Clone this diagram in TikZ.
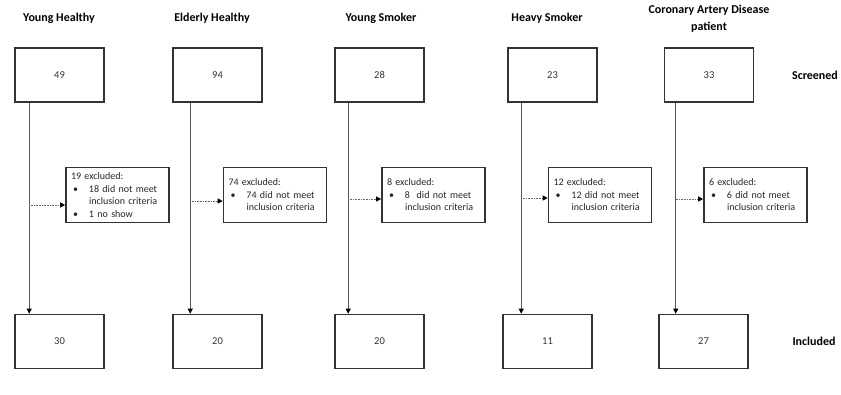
\documentclass[tikz,border=0pt]{standalone}
\usepackage{fontspec}
\setmainfont{Carlito}
\usetikzlibrary{arrows.meta,positioning,calc}

\newcommand{\exitem}{\hspace*{2pt}\makebox[16pt][l]{\textbullet}}
\newcommand{\exindent}{\hspace*{18pt}}

\begin{document}
\begin{tikzpicture}[
    x=1pt, y=-1pt,
    font=\fontsize{10.5}{12}\selectfont,
    field/.style={draw=black!80, line width=1.6pt, minimum width=89pt, minimum height=54pt, inner sep=0pt, text=black!80},
    excl/.style={draw=black!80, line width=1.6pt, minimum width=103pt, minimum height=55pt, text width=93pt, inner xsep=5pt, align=left, text=black!85, font=\fontsize{10}{12.5}\selectfont},
    group/.style={font=\bfseries\fontsize{12}{17}\selectfont, align=center},
    flow/.style={-{Triangle[length=5pt, width=5pt, color=black]}, draw=black!65, line width=0.8pt},
    skip/.style={-{Triangle[length=5pt, width=5pt, color=black]}, dash pattern=on 0.9pt off 0.7pt, draw=black!60, line width=0.9pt}
]
\useasboundingbox (0,0) rectangle (841,394);

% group titles
\node[group] (t1) at (59,18) {Young Healthy};
\node[group] (t2) at (212,18) {Elderly Healthy};
\node[group] (t3) at (381,18) {Young Smoker};
\node[group] (t4) at (547,18) {Heavy Smoker};
\node[group] (t5) at (709,19) {Coronary Artery Disease\\patient};

% screened
\node[field] (scr1) at (59.5,75) {49};
\node[field] (scr2) at (217.5,75) {94};
\node[field] (scr3) at (379.5,75) {28};
\node[field] (scr4) at (552.5,75) {23};
\node[field] (scr5) at (709,75) {33};
\node[group] (scr) at (815,75) {Screened};

% excluded
\node[excl] (ex1) at (117.5,195) {19 excluded:\\\exitem 18 did not meet\\\exindent inclusion criteria\\\exitem 1 no show};
\node[excl] (ex2) at (275,195) {74 excluded:\\\exitem 74 did not meet\\\exindent inclusion criteria};
\node[excl] (ex3) at (433.5,195) {8 excluded:\\\exitem 8~ did not meet\\\exindent inclusion criteria};
\node[excl] (ex4) at (600,195) {12 excluded:\\\exitem 12 did not meet\\\exindent inclusion criteria};
\node[excl] (ex5) at (755.5,195) {6 excluded:\\\exitem 6 did not meet\\\exindent inclusion criteria};

% included
\node[field] (inc1) at (59.5,341.5) {30};
\node[field] (inc2) at (217.5,341.5) {20};
\node[field] (inc3) at (379.5,341.5) {20};
\node[field] (inc4) at (547.5,341.5) {11};
\node[field] (inc5) at (703.5,341.5) {27};
\node[group] (inc) at (814,341.5) {Included};

% line starts and side arrow ends
\coordinate (top1) at ($(scr1.south west)+(15,0)$);
\coordinate (top2) at ($(scr2.south west)+(18,0)$);
\coordinate (top3) at ($(scr3.south west)+(14,0)$);
\coordinate (top4) at ($(scr4.south west)+(14,0)$);
\coordinate (top5) at ($(scr5.south west)+(12,0)$);
\coordinate (d1) at ($(ex1.west)+(0,10)$);
\coordinate (d2) at ($(ex2.west)+(0,6)$);
\coordinate (d3) at ($(ex3.west)+(0,4)$);
\coordinate (d4) at ($(ex4.west)+(0,3)$);
\coordinate (d5) at ($(ex5.west)+(0,4)$);

\draw[flow] (top1) -- (top1 |- inc1.north);
\draw[flow] (top2) -- (top2 |- inc2.north);
\draw[flow] (top3) -- (top3 |- inc3.north);
\draw[flow] (top4) -- (top4 |- inc4.north);
\draw[flow] (top5) -- (top5 |- inc5.north);

\draw[skip] (top1 |- d1) -- (d1);
\draw[skip] (top2 |- d2) -- (d2);
\draw[skip] (top3 |- d3) -- (d3);
\draw[skip] (top4 |- d4) -- (d4);
\draw[skip] (top5 |- d5) -- (d5);
\end{tikzpicture}
\end{document}
